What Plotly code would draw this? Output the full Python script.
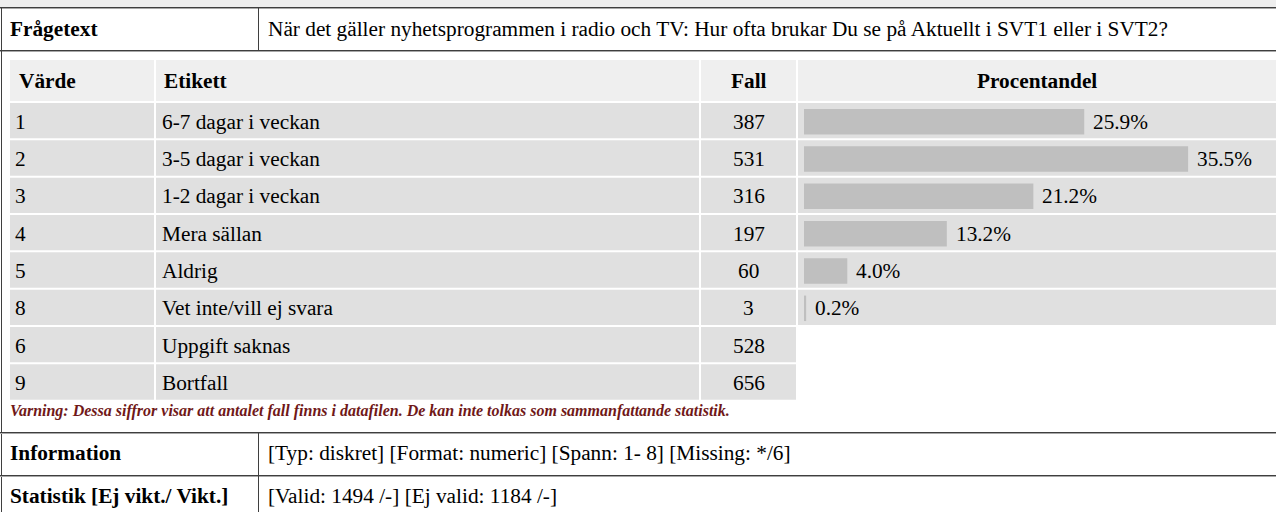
import plotly.graph_objects as go

# ---- data ----
values = ["1", "2", "3", "4", "5", "8", "6", "9"]
labels = ["6-7 dagar i veckan", "3-5 dagar i veckan", "1-2 dagar i veckan",
          "Mera sällan", "Aldrig", "Vet inte/vill ej svara", "Uppgift saknas", "Bortfall"]
counts = [387, 531, 316, 197, 60, 3, 528, 656]
percents = [25.9, 35.5, 21.2, 13.2, 4.0, 0.2]
headers = ["Värde", "Etikett", "Fall", "Procentandel"]
question = "När det gäller nyhetsprogrammen i radio och TV: Hur ofta brukar Du se på Aktuellt i SVT1 eller i SVT2?"
info_text = "[Typ: diskret] [Format: numeric] [Spann: 1- 8] [Missing: */6]"
stat_text = "[Valid: 1494 /-] [Ej valid: 1184 /-]"
warning = "Varning: Dessa siffror visar att antalet fall finns i datafilen. De kan inte tolkas som sammanfattande statistik."

W, H = 1276, 512
FONT = "Liberation Serif, Times New Roman, serif"
FS = 21.3
ROW_BG = "#e0e0e0"
HEAD_BG = "#efefef"
BAR_C = "#bfbfbf"

# layout geometry (pixels)
cols = [(10, 154), (156, 699), (701, 796), (798, 1280)]
head_top, head_bot = 60, 101
row_top0, row_step = 103, 37.33
row_h = row_step - 2
px_per_pct = 10.82
bar_x0 = 804

shapes = []
annots = []

def rect(x0, y0, x1, y1, color):
    shapes.append(dict(type="rect", xref="x", yref="y", x0=x0, y0=y0, x1=x1, y1=y1,
                       fillcolor=color, line=dict(width=0), layer="below"))

def hline(y, x0=0, x1=W):
    shapes.append(dict(type="line", xref="x", yref="y", x0=x0, x1=x1, y0=y + 0.5, y1=y + 0.5,
                       line=dict(color="#3f3f3f", width=1), layer="below"))
    shapes.append(dict(type="line", xref="x", yref="y", x0=x0, x1=x1, y0=y + 1.5, y1=y + 1.5,
                       line=dict(color="#a8a8a8", width=1), layer="below"))

def vline(x, y0, y1, color="#3f3f3f"):
    shapes.append(dict(type="line", xref="x", yref="y", x0=x + 0.5, x1=x + 0.5, y0=y0, y1=y1,
                       line=dict(color=color, width=1), layer="below"))

def text(x, y, s, anchor="left", size=FS, color="#000000"):
    annots.append(dict(xref="x", yref="y", x=x, y=y, text=s, showarrow=False,
                       xanchor=anchor, yanchor="middle",
                       font=dict(family=FONT, size=size, color=color)))

# top strip
rect(0, 0, W, 7, "#eeeeee")
hline(7)
hline(50)
vline(1, 7, H)
vline(258, 8, 50)
text(8, 29, "<b>Frågetext</b>")
text(266, 29, question)

# header row
for (x0, x1) in cols:
    rect(x0, head_top, x1, head_bot, HEAD_BG)
hc = (head_top + head_bot) / 2
text(17, hc, "<b>" + headers[0] + "</b>")
text(162, hc, "<b>" + headers[1] + "</b>")
text((cols[2][0] + cols[2][1]) / 2, hc, "<b>" + headers[2] + "</b>", anchor="center")
text((cols[3][0] + cols[3][1]) / 2 - 2, hc, "<b>" + headers[3] + "</b>", anchor="center")

# data rows
for i in range(len(values)):
    t = row_top0 + i * row_step
    b = t + row_h
    ncols = 4 if i < len(percents) else 3
    for (x0, x1) in cols[:ncols]:
        rect(x0, t, x1, b, ROW_BG)
    yc = (t + b) / 2 + 1
    text(13, yc, values[i])
    text(160, yc, labels[i])
    text((cols[2][0] + cols[2][1]) / 2, yc, str(counts[i]), anchor="center")

text(8, 411, "<b><i>" + warning + "</i></b>", size=16, color="#701818")

# bottom info table
hline(432)
hline(475)
vline(258, 433, H)
text(8, 453, "<b>Information</b>")
text(266, 453, info_text)
text(8, 496, "<b>Statistik [Ej vikt./ Vikt.]</b>")
text(266, 496, stat_text)

# bars
n = len(percents)
c0 = row_top0 + row_h / 2 + 1
bars_top = c0 - row_step / 2
bars_bot = c0 + row_step * (n - 0.5)
fig = go.Figure()
fig.add_trace(go.Bar(
    x=percents, y=list(range(n)), orientation="h",
    marker=dict(color=BAR_C, line=dict(width=0)),
    width=25.5 / row_step, xaxis="x2", yaxis="y2", hoverinfo="skip", showlegend=False,
))
for i, p in enumerate(percents):
    annots.append(dict(xref="x2", yref="y2", x=p, y=i, text=f"{p:.1f}%", showarrow=False,
                       xanchor="left", yanchor="middle", xshift=7,
                       font=dict(family=FONT, size=FS, color="#000000")))

x2_w = W - bar_x0
fig.update_layout(
    width=W, height=H, margin=dict(l=0, r=0, t=0, b=0),
    paper_bgcolor="white", plot_bgcolor="rgba(0,0,0,0)",
    xaxis=dict(range=[0, W], visible=False, domain=[0, 1], fixedrange=True),
    yaxis=dict(range=[H, 0], visible=False, domain=[0, 1], fixedrange=True),
    xaxis2=dict(range=[0, x2_w / px_per_pct], domain=[bar_x0 / W, 1],
                visible=False, anchor="y2", fixedrange=True),
    yaxis2=dict(range=[n - 0.5, -0.5], domain=[1 - bars_bot / H, 1 - bars_top / H],
                visible=False, anchor="x2", fixedrange=True),
    shapes=shapes, annotations=annots, showlegend=False,
)
fig.write_html("out.html", config={"displayModeBar": False},
               post_script="document.body.style.margin='0';document.body.style.overflow='hidden';")
